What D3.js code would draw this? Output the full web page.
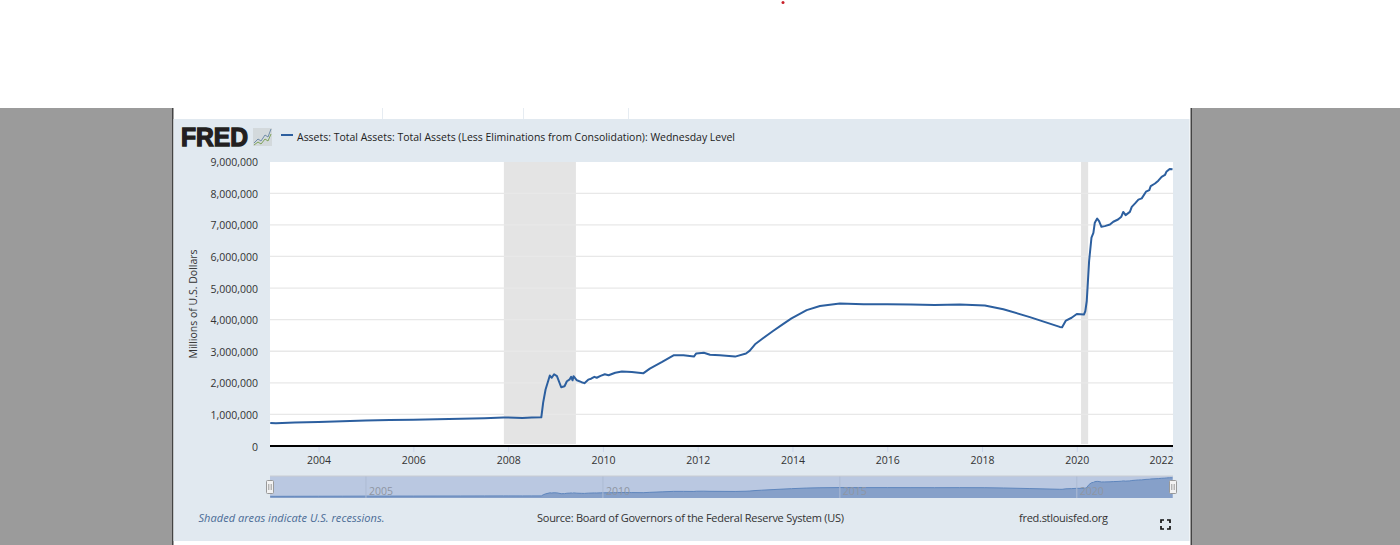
<!DOCTYPE html>
<html><head><meta charset="utf-8">
<script src="https://cdnjs.cloudflare.com/ajax/libs/d3/7.8.5/d3.min.js"></script>
<style>
html,body{margin:0;padding:0;background:#fff;overflow:hidden}
svg{display:block}
text{font-family:"Open Sans",sans-serif}
</style></head><body>
<svg id="c" width="1400" height="545"></svg>
<script>
// Data (decimal year, millions of U.S. dollars / 1e6)
const years = [2002.98,2003.1,2003.5,2004,2004.5,2005,2005.5,2006,2006.5,2007,2007.5,2007.9,2008,2008.3,2008.5,2008.7,
 2008.74,2008.79,2008.88,2008.92,2008.97,2009.03,2009.12,2009.19,2009.24,2009.30,2009.33,2009.36,2009.38,2009.45,2009.55,2009.61,2009.69,2009.75,2009.82,2009.87,2009.95,2010.04,2010.12,2010.26,2010.40,2010.61,2010.85,2010.99,
 2011.25,2011.49,2011.70,2011.92,2011.97,2012.13,2012.26,2012.47,2012.79,2013.02,2013.10,2013.21,2013.35,2013.59,2013.80,2013.98,2014.30,2014.58,2015.0,
 2015.5,2016,2016.5,2017,2017.53,2018.06,2018.45,2019.01,2019.64,2019.69,2019.77,2019.89,2020.0,2020.15,2020.18,
 2020.21,2020.26,2020.31,2020.35,2020.38,2020.43,2020.47,2020.52,2020.59,2020.70,2020.77,2020.87,2020.94,2020.98,2021.03,2021.12,2021.16,2021.23,2021.30,2021.37,2021.46,2021.53,2021.56,2021.65,2021.72,2021.79,2021.86,2021.89,2021.96,2022.02];
const assets = [0.73,0.72,0.74,0.76,0.78,0.81,0.82,0.83,0.85,0.86,0.88,0.90,0.90,0.89,0.90,0.91,
 1.38,1.79,2.23,2.16,2.27,2.21,1.86,1.89,2.05,2.11,2.19,2.08,2.21,2.08,2.02,1.99,2.10,2.13,2.19,2.16,2.22,2.27,2.24,2.32,2.36,2.34,2.30,2.45,
 2.66,2.87,2.87,2.83,2.93,2.95,2.89,2.87,2.83,2.93,3.02,3.22,3.38,3.64,3.86,4.04,4.30,4.43,4.51,
 4.49,4.49,4.48,4.46,4.48,4.45,4.33,4.08,3.77,3.76,3.97,4.06,4.18,4.16,4.27,
 4.59,5.86,6.60,6.75,7.07,7.20,7.12,6.94,6.96,7.01,7.10,7.17,7.26,7.41,7.31,7.41,7.57,7.68,7.80,7.84,8.05,8.10,8.23,8.31,8.40,8.52,8.58,8.68,8.77,8.76];
const recessionStart = [2007.91,2020.09];
const recessionEnd = [2009.43,2020.24];
const yTicks = [0,1,2,3,4,5,6,7,8,9];
const xTicks = [2004,2006,2008,2010,2012,2014,2016,2018,2020,2022];
const navTicks = [2005,2010,2015,2020];
const seriesTitle = "Assets: Total Assets: Total Assets (Less Eliminations from Consolidation): Wednesday Level";

const svg = d3.select("#c");
const rect=(x,y,w,h,f)=>svg.append("rect").attr("x",x).attr("y",y).attr("width",w).attr("height",h).attr("fill",f);
const label=(t,x,y,size,fill,anchor="start")=>svg.append("text").attr("x",x).attr("y",y).attr("font-size",size).attr("fill",fill).attr("text-anchor",anchor).text(t);

// page frame
rect(0,108,172,437,"#9b9b9b");
rect(1192,108,208,437,"#9b9b9b");
rect(172,108,1.5,437,"#444");
rect(1190.5,108,1.5,437,"#444");
[382,523,628].forEach(x=>rect(x,108,1,11,"#e6ecf2"));
svg.append("circle").attr("cx",783).attr("cy",2.5).attr("r",1.5).attr("fill","#c8202a");
rect(173.5,119,1016,422,"#e1e9f0");

// scales
const x = d3.scaleLinear().domain([2002.975,2022.03]).range([270,1173]);
const y = d3.scaleLinear().domain([0,9]).range([446,161.7]);
const yNav = d3.scaleLinear().domain([0,9]).range([498,477.2]);
const pts = d3.range(years.length);

// plot background
rect(270,162,903,285,"#fff");

// recessions
svg.append("g").selectAll("rect").data(recessionStart).join("rect")
  .attr("x",d=>x(d)).attr("width",(d,i)=>x(recessionEnd[i])-x(d))
  .attr("y",162).attr("height",282).attr("fill","#e4e4e4");

// grid
svg.append("g").selectAll("line").data(yTicks.filter(d=>d>0&&d<9)).join("line")
  .attr("x1",270).attr("x2",1173).attr("y1",d=>y(d)).attr("y2",d=>y(d))
  .attr("stroke","#e8e8e8").attr("stroke-width",1.3);

// axes
const gy = svg.append("g").attr("transform","translate(270,0.7)")
  .call(d3.axisLeft(y).tickValues(yTicks).tickSize(0).tickPadding(12).tickFormat(d=>d3.format(",")(d*1e6)));
gy.select(".domain").remove();
gy.selectAll("text").attr("font-size",10.5).attr("fill","#333").attr("font-family",'"Open Sans",sans-serif');

const gx = svg.append("g").attr("transform","translate(0,447)")
  .call(d3.axisBottom(x).tickValues(xTicks).tickSize(5).tickPadding(5).tickFormat(d3.format("d")));
gx.select(".domain").remove();
gx.selectAll("line").attr("stroke","#ccd6eb");
gx.selectAll("text").attr("font-size",10.5).attr("fill","#333").attr("font-family",'"Open Sans",sans-serif');
gx.selectAll("text").filter(d=>d===2022).attr("text-anchor","end").attr("dx",1.5);

// baseline
svg.append("line").attr("x1",270).attr("x2",1173).attr("y1",y(0)).attr("y2",y(0)).attr("stroke","#000").attr("stroke-width",2);

// series
svg.append("path").datum(pts)
  .attr("d",d3.line().x(i=>x(years[i])).y(i=>y(assets[i])))
  .attr("fill","none").attr("stroke","#2c5f9f").attr("stroke-width",2).attr("stroke-linejoin","round");

// axis title
svg.append("text").attr("transform","translate(196.5,304) rotate(-90)").attr("text-anchor","middle")
  .attr("font-size",10.5).attr("fill","#333").text("Millions of U.S. Dollars");

// legend
svg.append("line").attr("x1",281).attr("x2",293).attr("y1",135).attr("y2",135).attr("stroke","#2c5f9f").attr("stroke-width",2);
label(seriesTitle,297,140.5,11,"#222").attr("textLength",438).attr("lengthAdjust","spacingAndGlyphs");

// logo
svg.append("text").attr("x",181).attr("y",145.5).attr("font-size",25).attr("font-weight",900)
  .style("font-family",'"Liberation Sans",sans-serif')
  .attr("fill","#231f20").attr("stroke","#231f20").attr("stroke-width",1.3)
  .attr("textLength",67).attr("lengthAdjust","spacingAndGlyphs").text("FRED");
rect(253,128,19,18,"#d3d9dc");
const iconBlue=[[254,143],[258,139],[261,141],[265,135],[268,137],[271,129]];
const iconGreen=[[254,145],[258,142],[261,144],[265,139],[268,141],[271,134]];
const iconLine=d3.line();
svg.append("path").attr("d",iconLine(iconBlue)).attr("fill","none").attr("stroke","#6f8ca8").attr("stroke-width",1);
svg.append("path").attr("d",iconLine(iconGreen)).attr("fill","none").attr("stroke","#7fa35a").attr("stroke-width",1);

// navigator
rect(270,476,903,22,"#bac8e1");
svg.append("path").datum(pts)
  .attr("d",d3.area().x(i=>x(years[i])).y0(498).y1(i=>yNav(assets[i])))
  .attr("fill","#86a0c9");
svg.append("path").datum(pts)
  .attr("d",d3.line().x(i=>x(years[i])).y(i=>yNav(assets[i])))
  .attr("fill","none").attr("stroke","#5f86bd").attr("stroke-width",1);
svg.append("g").selectAll("line").data(navTicks).join("line")
  .attr("x1",d=>x(d)).attr("x2",d=>x(d)).attr("y1",476).attr("y2",498).attr("stroke","#adbbd4").attr("stroke-width",1);
svg.append("g").selectAll("text").data(navTicks).join("text")
  .attr("x",d=>x(d)+3).attr("y",495).attr("font-size",10.5).attr("fill","#8f96a3").text(d=>d);
svg.append("line").attr("x1",270).attr("x2",1173).attr("y1",476).attr("y2",476).attr("stroke","#c9ccd2");
[270,1173].forEach(h=>{
  svg.append("rect").attr("x",h-3.5).attr("y",480.5).attr("width",7).attr("height",13).attr("rx",1)
    .attr("fill","#f2f2f2").attr("stroke","#999");
  [h-1.2,h+1.2].forEach(v=>svg.append("line").attr("x1",v).attr("x2",v).attr("y1",484).attr("y2",490).attr("stroke","#999"));
});

// footer
label("Shaded areas indicate U.S. recessions.",198.5,522,11,"#4a6b96").attr("font-style","italic").attr("textLength",186);
label("Source: Board of Governors of the Federal Reserve System (US)",537,522,11,"#333").attr("textLength",307);
label("fred.stlouisfed.org",1019,522,11,"#333").attr("textLength",89);

// fullscreen icon
const corners=[[1161,523,1161,520,1164,520],[1167,520,1170,520,1170,523],[1170,526,1170,529,1167,529],[1164,529,1161,529,1161,526]];
svg.append("g").selectAll("path").data(corners).join("path")
  .attr("d",c=>`M${c[0]} ${c[1]}L${c[2]} ${c[3]}L${c[4]} ${c[5]}`)
  .attr("fill","none").attr("stroke","#111").attr("stroke-width",1.7);
</script>
</body></html>
